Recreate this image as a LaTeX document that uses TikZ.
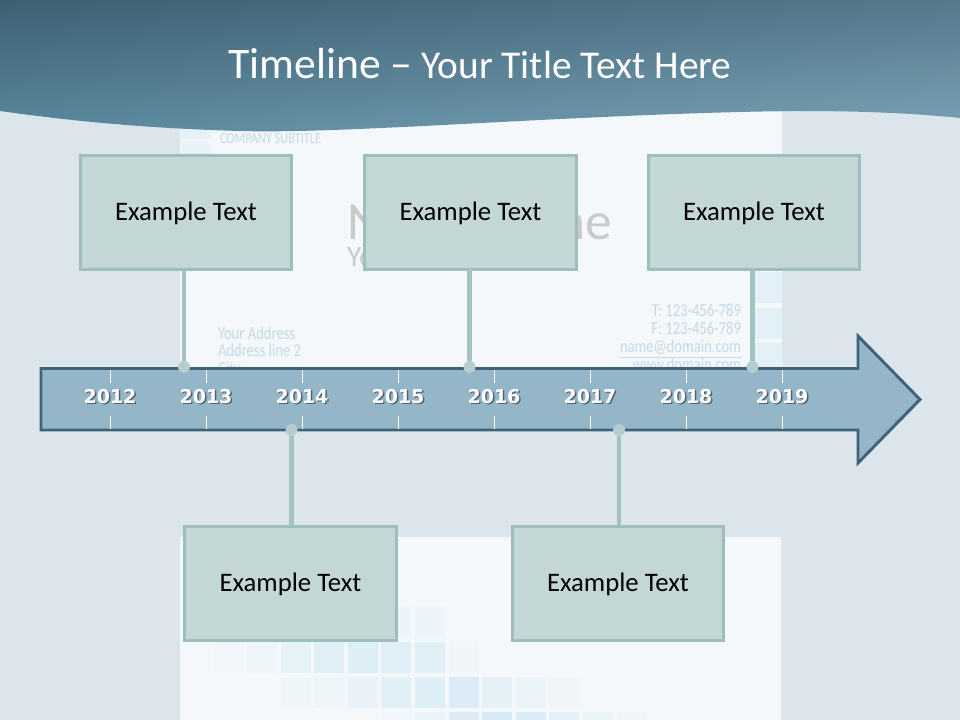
\documentclass[tikz,border=0pt]{standalone}
\usepackage{fontspec}
\setmainfont{Carlito}
\newfontfamily\yearfont{DejaVu Sans}
\newfontfamily\ghostfont{Carlito}[FakeStretch=0.8]
\usepackage{tikz}
\usetikzlibrary{shadings}

\definecolor{bgleft}{HTML}{DBE5EB}
\definecolor{bgmid}{HTML}{E7EEF2}
\definecolor{bgright}{HTML}{DCE5EB}
\definecolor{cardcol}{HTML}{F4F8FA}
\definecolor{tilecol}{HTML}{D3E9F5}
\definecolor{ghostblue}{HTML}{C6D9E6}
\definecolor{ghostgrey}{HTML}{C8CACB}
\definecolor{hdrUL}{HTML}{3E6073}
\definecolor{hdrUR}{HTML}{56798C}
\definecolor{hdrLL}{HTML}{5A889F}
\definecolor{hdrLR}{HTML}{7AA2B4}
\definecolor{arrowfill}{HTML}{94B6C8}
\definecolor{arrowline}{HTML}{3F6477}
\definecolor{boxfill}{HTML}{C2D7D6}
\definecolor{boxline}{HTML}{9EBEBE}
\definecolor{stemcol}{HTML}{A3C2C2}
\definecolor{pincol}{HTML}{B6CDCD}
\definecolor{yearshade}{HTML}{50656F}

\begin{document}
\begin{tikzpicture}[x=0.025cm, y=-0.025cm,
    every node/.style={inner sep=0pt, outer sep=0pt},
    event/.style={draw=boxline, fill=boxfill, line width=2.1pt,
      minimum width=5.28cm, minimum height=2.835cm,
      text height=12pt, text depth=0pt, font=\fontsize{19}{23}\selectfont},
    stem/.style={draw=stemcol, line width=3.2pt},
    pin/.style={circle, fill=pincol, minimum size=0.3cm},
    tick/.style={draw=white, line width=0.7pt},
    year/.style={font=\yearfont\bfseries\fontsize{13.5}{16}\selectfont, text=white},
    ghost/.style={font=\ghostfont\fontsize{13}{15}\selectfont, text=ghostblue},
    title/.style={font=\fontsize{28}{34}\selectfont, text=white}]

  \useasboundingbox (0,0) rectangle (960,720);
  \shade[left color=bgleft, middle color=bgmid, right color=bgright] (0,0) rectangle (960,720);
  \fill[cardcol] (180,100) rectangle (782,368);
  \fill[cardcol] (180,537) rectangle (781,720);

  \foreach \tx/\ty/\op in {181/108/0.4, 181/142/0.35, 755/272/0.5, 755/308/0.5, 755/343/0.5,
      381/607/0.25, 415/607/0.25,
      213/642/0.1, 247/642/0.2, 281/642/0.4, 314/642/0.55, 348/642/0.65, 381/642/0.6, 415/642/0.55, 449/642/0.15,
      281/677/0.12, 314/677/0.2, 348/677/0.35, 381/677/0.55, 415/677/0.65, 449/677/0.75, 482/677/0.45, 516/677/0.3, 549/677/0.15,
      381/712/0.1, 415/712/0.3, 449/712/0.75, 482/712/0.85, 516/712/0.75, 549/712/0.5, 583/712/0.3, 617/712/0.15}
    \fill[tilecol, opacity=\op] (\tx,\ty) rectangle ++(30,31);

  \node[ghost, font=\ghostfont\fontsize{11}{13}\selectfont, anchor=base west] (subtitle) at (220,144) {COMPANY SUBTITLE};
  \node[ghost, anchor=base west] (addr1) at (218,340) {Your Address};
  \node[ghost, anchor=base west] (addr2) at (218,357) {Address line 2};
  \node[ghost, anchor=base west] (addr3) at (218,375) {City};
  \node[ghost, anchor=base east] (phone) at (741,317) {T: 123-456-789};
  \node[ghost, anchor=base east] (fax) at (741,335) {F: 123-456-789};
  \node[ghost, anchor=base east] (mail) at (741,353) {\underline{name@domain.com}};
  \node[ghost, anchor=base east] (web) at (741,371) {www.domain.com};
  \node[anchor=base west, text=ghostgrey, font=\fontsize{38}{44}\selectfont] (namel) at (347,240) {Na};
  \node[anchor=base east, text=ghostgrey, font=\fontsize{38}{44}\selectfont] (namer) at (612,240) {ne};
  \node[anchor=base west, text=ghostgrey, font=\fontsize{21}{25}\selectfont] (posl) at (347,267) {Yo};

  \shade[upper left=hdrUL, upper right=hdrUR, lower left=hdrLL, lower right=hdrLR]
    (0,0) -- (960,0) -- (960,118) .. controls (890,111) and (820,110) .. (740,112)
    .. controls (540,117) and (340,134) .. (240,131) .. controls (130,128) and (50,118) .. (0,111) -- cycle;
  \node[title, anchor=base] (title) at (480,79) {{\fontsize{31}{37}\selectfont Timeline –} Your Title Text Here};

  \draw[draw=arrowline, fill=arrowfill, line width=2.1pt, line join=miter]
    (41,368.5) -- (858,368.5) -- (858,336) -- (920,399.5) -- (858,463) -- (858,430) -- (41,430) -- cycle;

  \foreach \yr [count=\i from 0] in {2012,...,2019}{
    \draw[tick] (110+96*\i,370) -- (110+96*\i,383) (110+96*\i,416) -- (110+96*\i,429);
    \node[year, text=yearshade] (s\yr) at (111.5+96*\i,398) {\yr};
    \node[year] (y\yr) at (110+96*\i,396.5) {\yr};
  }

  \node[event] (e1) at (186,212.5) {Example Text};
  \node[event] (e2) at (470.5,212.5) {Example Text};
  \node[event] (e3) at (754,212.5) {Example Text};
  \node[event] (e4) at (290.5,583.5) {Example Text};
  \node[event] (e5) at (618,583.5) {Example Text};

  \node[pin] (p1) at (184,367) {};
  \node[pin] (p2) at (469.5,367) {};
  \node[pin] (p3) at (752.5,367) {};
  \node[pin] (p4) at (291.5,430) {};
  \node[pin] (p5) at (619,430) {};

  \draw[stem] (p1) -- (p1 |- e1.south);
  \draw[stem] (p2) -- (p2 |- e2.south);
  \draw[stem] (p3) -- (p3 |- e3.south);
  \draw[stem] (p4) -- (p4 |- e4.north);
  \draw[stem] (p5) -- (p5 |- e5.north);
\end{tikzpicture}
\end{document}
